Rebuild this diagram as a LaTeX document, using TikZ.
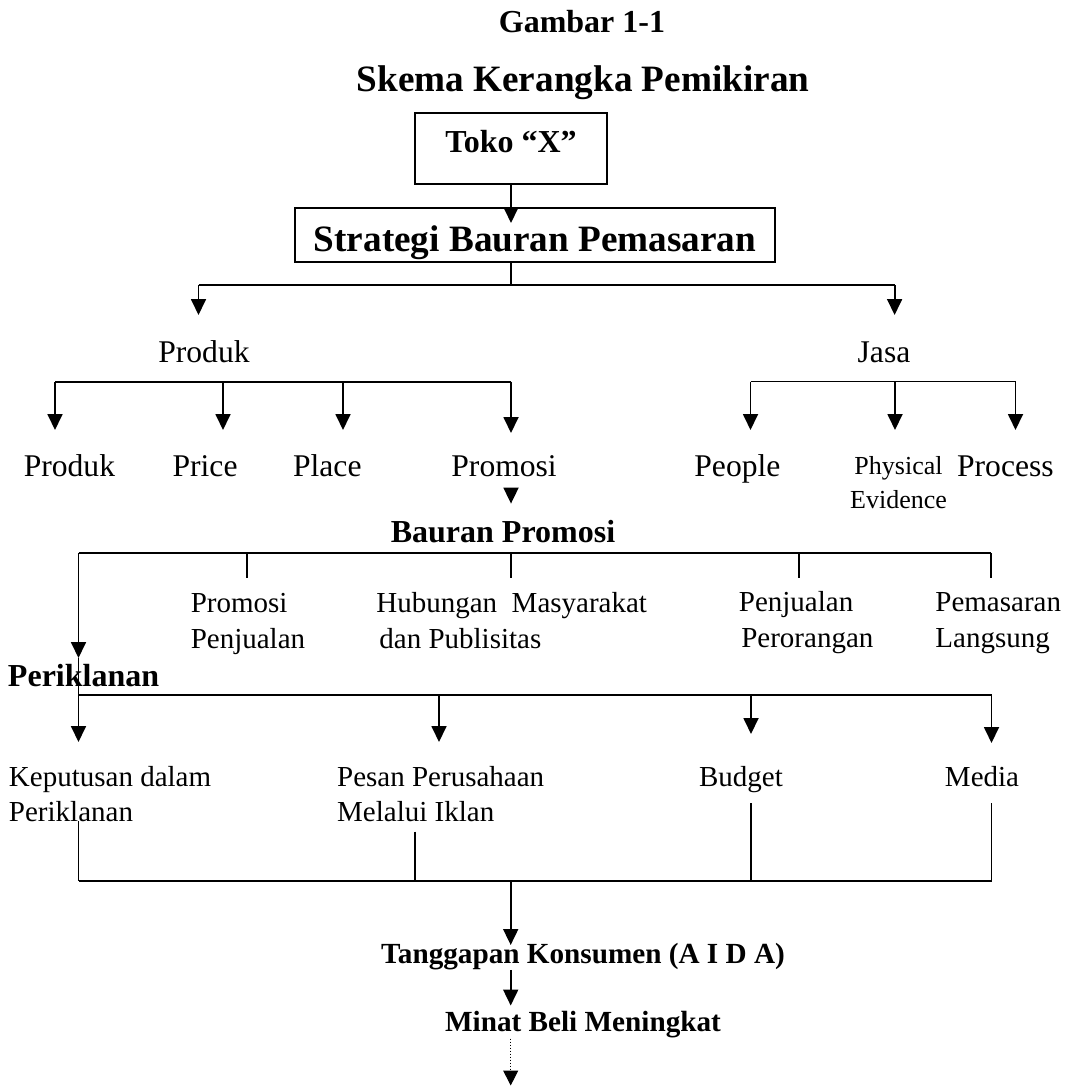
\documentclass[tikz,border=0pt]{standalone}
\usepackage{fontspec}
\setmainfont{Liberation Serif}
\usetikzlibrary{arrows.meta}
\tikzset{
  ln/.style={line width=0.9pt},
  arr/.style={ln, -{Triangle[length=8pt, width=7.5pt]}},
  dotarr/.style={line width=0.5pt, dash pattern=on 0.6pt off 0.9pt, -{Triangle[length=7.5pt, width=7.5pt]}},
  box/.style={draw, line width=0.9pt, inner sep=0pt},
  ttl/.style={font=\fontsize{16}{19}\selectfont\bfseries, inner sep=0pt},
  bigttl/.style={font=\fontsize{18.6}{22}\selectfont\bfseries, inner sep=0pt},
  hdr/.style={font=\fontsize{16}{19}\selectfont\bfseries, inner sep=0pt},
  res/.style={font=\fontsize{14.6}{18}\selectfont\bfseries, inner sep=0pt},
  lbl/.style={font=\fontsize{15.8}{19}\selectfont, inner sep=0pt},
  sml/.style={font=\fontsize{13}{17.1}\selectfont, inner sep=0pt, align=center},
  sub/.style={font=\fontsize{14.5}{18}\selectfont, inner sep=0pt, align=left},
  subb/.style={font=\fontsize{14.5}{17.2}\selectfont, inner sep=0pt, align=left},
}

\begin{document}
\begin{tikzpicture}[x=0.5pt, y=-0.5pt]
  \useasboundingbox (0,0) rectangle (1066,1086);
  % titles
  \node[ttl, anchor=base] (gambar) at (582,33) {Gambar 1-1};
  \node[bigttl, anchor=base] (skema) at (583,92) {Skema Kerangka Pemikiran};
  % boxes
  \node[box, hdr, minimum width=96pt, minimum height=35.5pt, text height=10.5pt, text depth=6pt] (toko) at (511,148.5) {Toko “X”};
  \node[box, bigttl, minimum width=240pt, minimum height=27pt, text height=16.7pt, text depth=0pt] (strat) at (535,235) {Strategi Bauran Pemasaran};
  \coordinate (stip) at (511,223);
  \draw[arr] (toko.south) -- (stip);
  % produk / jasa
  \coordinate (b1) at (511,285);
  \coordinate (b1l) at (198.5,315);
  \coordinate (b1r) at (894.6,315);
  \draw[ln] (toko.south |- strat.south) -- (b1);
  \draw[ln] (b1l |- b1) -- (b1r |- b1);
  \draw[arr] (b1l |- b1) -- (b1l);
  \draw[arr] (b1r |- b1) -- (b1r);
  \node[lbl, anchor=base] (produk) at (204,362) {Produk};
  \node[lbl, anchor=base] (jasa) at (884,362) {Jasa};
  % produk branch
  \coordinate (pbar) at (511,381.7);
  \foreach \x/\y [count=\i] in {55/430,223/430,343/430,511/433} {
    \coordinate (pt\i) at (\x,\y);
    \draw[arr] (pt\i |- pbar) -- (pt\i);
  }
  \draw[ln] (pt1 |- pbar) -- (pbar);
  % jasa branch
  \coordinate (jbar) at (1015.5,381.5);
  \foreach \x [count=\i] in {750.5,895,1015.5} {
    \coordinate (jt\i) at (\x,430);
    \draw[arr] (jt\i |- jbar) -- (jt\i);
  }
  \draw[ln] (jt1 |- jbar) -- (jbar);
  \node[lbl, anchor=base west] (lprod) at (23.4,476) {Produk};
  \node[lbl, anchor=base west] (lprice) at (172.2,476) {Price};
  \node[lbl, anchor=base west] (lplace) at (292.7,476) {Place};
  \node[lbl, anchor=base west] (lpromo) at (451,476) {Promosi};
  \node[lbl, anchor=base west] (lpeople) at (694,476) {People};
  \node[sml, anchor=base] (lphys) at (898.5,508.7) {Physical\\Evidence};
  \node[lbl, anchor=base west] (lproc) at (956.7,476) {Process};
  % bauran promosi
  \node[hdr, anchor=base] (bauran) at (503,542) {Bauran Promosi};
  \draw[arr, shorten >=7.9pt] ([yshift=-7pt]lpromo.south -| pt4) -- (bauran.north -| pt4);
  \coordinate (mbar) at (991,553);
  \foreach \x [count=\i] in {246.6,510.7,799,991} {
    \coordinate (mt\i) at (\x,578);
    \draw[ln] (mt\i |- mbar) -- (mt\i);
  }
  \coordinate (iklTip) at (78.5,658);
  \draw[ln] (iklTip |- mbar) -- (mbar);
  \draw[arr] (iklTip |- mbar) -- (iklTip);
  \node[sub, anchor=base west] (lpp) at (190.4,648.7) {Promosi\\Penjualan};
  \node[sub, anchor=base west] (lhm) at (376,648.7) {Hubungan\ \ Masyarakat\\\hspace*{1.5pt}dan Publisitas};
  \node[sub, anchor=base west] (lpo) at (738.5,647.5) {Penjualan\\\hspace*{1.2pt}Perorangan};
  \node[sub, anchor=base west] (lpl) at (935,647.5) {Pemasaran\\Langsung};
  \node[hdr, anchor=base west] (ikl) at (7.6,686.6) {Periklanan};
  % periklanan branch
  \coordinate (kbar) at (991.5,695);
  \draw[ln] (iklTip) -- (iklTip |- kbar) -- (kbar);
  \foreach \x/\y [count=\i] in {78.5/742,439/742,751/734,991.5/743} {
    \coordinate (kt\i) at (\x,\y);
    \draw[arr] (kt\i |- kbar) -- (kt\i);
  }
  \node[subb, anchor=base west] (lkep) at (8.6,821) {Keputusan dalam\\Periklanan};
  \node[subb, anchor=base west] (lpes) at (336.8,821) {Pesan Perusahaan\\Melalui Iklan};
  \node[subb, anchor=base] (lbud) at (741,786) {Budget};
  \node[subb, anchor=base] (lmed) at (982,786) {Media};
  % join
  \coordinate (fbar) at (991.5,881);
  \foreach \x/\y [count=\i] in {78.5/821,415/831.5,751/803,991.5/803} {
    \coordinate (fu\i) at (\x,\y);
    \draw[ln] (fu\i) -- (fu\i |- fbar);
  }
  \draw[ln] (fu1 |- fbar) -- (fbar);
  % result
  \node[res, anchor=base] (tang) at (583,963) {Tanggapan Konsumen (A I D A)};
  \node[res, anchor=base] (minat) at (583,1031.7) {Minat Beli Meningkat};
  \coordinate (ax) at (510.7,945);
  \coordinate (aend) at (510.7,1085.5);
  \draw[arr] (ax |- fbar) -- (ax);
  \draw[arr, shorten >=2.75pt] (tang.south -| ax) -- (minat.north -| ax);
  \draw[dotarr] (minat.south -| ax) -- (aend);
\end{tikzpicture}
\end{document}
